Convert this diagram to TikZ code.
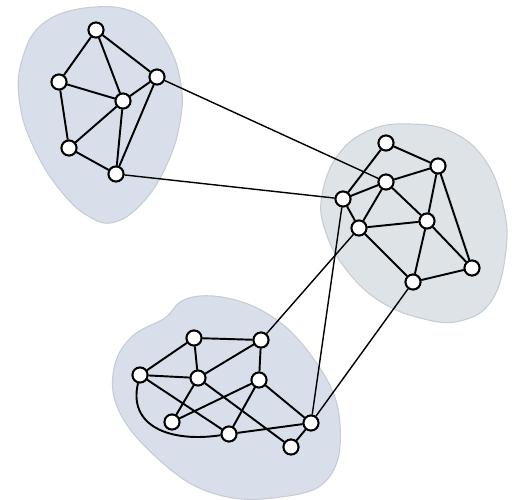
\documentclass[tikz,border=0pt]{standalone}

\definecolor{blobblue}{RGB}{217,223,234}
\definecolor{blobgray}{RGB}{222,227,231}
\definecolor{blobedge}{RGB}{198,203,214}

\begin{document}
\begin{tikzpicture}[x=0.02cm,y=-0.02cm]

% --- Global TikZ Styles ---
\tikzset{
    clusterA/.style={
        fill=blobblue,
        draw=blobedge,
        line width=0.6pt
    },
    clusterB/.style={
        fill=blobgray,
        draw=blobedge,
        line width=0.6pt
    },
    vertex/.style={
        circle,
        fill=white,
        draw=black,
        line width=1.1pt,
        minimum size=0.30cm,
        inner sep=0pt
    },
    inner edge/.style={
        draw=black,
        line width=1.1pt
    },
    bridge/.style={
        draw=black,
        line width=0.8pt
    }
}

\useasboundingbox (0,0) rectangle (519,499);

% ==================================================
% --- Background blobs ---
% ==================================================

\path[clusterA] plot[smooth cycle, tension=0.7] coordinates {
    (95,7) (140,15) (168,45) (181,85) (180,122) (168,162)
    (145,200) (115,222) (88,216) (60,190) (35,150) (20,105)
    (22,60) (45,22)};

\path[clusterB] plot[smooth cycle, tension=0.7] coordinates {
    (410,124) (452,132) (485,160) (503,205) (506,250) (492,300)
    (460,321) (420,318) (378,300) (345,268) (325,230) (322,195)
    (338,155) (370,130)};

\path[clusterA] plot[smooth cycle, tension=0.6] coordinates {
    (165,318) (180,302) (200,296) (227,298) (257,308) (287,328)
    (313,358) (333,392) (340,425) (337,462) (317,488) (273,498)
    (233,498) (193,485) (157,458) (127,425) (113,392) (117,358)
    (135,334)};

% ==================================================
% --- Top left cluster ---
% ==================================================

\node[vertex] (a1) at (96,30)  {};
\node[vertex] (a2) at (59,82)  {};
\node[vertex] (a3) at (123,101) {};
\node[vertex] (a4) at (157,77) {};
\node[vertex] (a5) at (69,148) {};
\node[vertex] (a6) at (116,174) {};

% ==================================================
% --- Right cluster ---
% ==================================================

\node[vertex] (b1) at (386,143) {};
\node[vertex] (b2) at (438,166) {};
\node[vertex] (b3) at (386,182) {};
\node[vertex] (b4) at (343,199) {};
\node[vertex] (b5) at (359,228) {};
\node[vertex] (b6) at (427,221) {};
\node[vertex] (b7) at (413,282) {};
\node[vertex] (b8) at (472,268) {};

% ==================================================
% --- Bottom cluster ---
% ==================================================

\node[vertex] (c1) at (194,338) {};
\node[vertex] (c2) at (261,340) {};
\node[vertex] (c3) at (140,375) {};
\node[vertex] (c4) at (198,378) {};
\node[vertex] (c5) at (259,380) {};
\node[vertex] (c6) at (172,422) {};
\node[vertex] (c7) at (229,434) {};
\node[vertex] (c8) at (311,423) {};
\node[vertex] (c9) at (291,447) {};

% ==================================================
% --- Edges ---
% ==================================================

% Bridges between clusters
\foreach \u/\v in {a4/b3, a6/b4, c2/b5, c8/b4, c8/b7}
    \draw[bridge] (\u) -- (\v);

% Edges inside the clusters
\foreach \u/\v in {a1/a2, a1/a3, a1/a4, a2/a3, a2/a5, a3/a4,
                   a3/a5, a3/a6, a4/a6, a5/a6,
                   b1/b2, b1/b4, b3/b2, b3/b4, b3/b5, b3/b6,
                   b4/b5, b5/b6, b5/b7, b2/b6, b2/b8, b6/b7,
                   b6/b8, b7/b8,
                   c3/c1, c1/c2, c1/c4, c3/c4, c4/c2, c2/c5,
                   c3/c7, c4/c6, c4/c9, c6/c5, c5/c7, c5/c8,
                   c7/c8, c9/c8}
    \draw[inner edge] (\u) -- (\v);

% Curved edge along the bottom
\draw[inner edge] (c3) .. controls (128,425) and (168,443) .. (c7);

% Redraw vertices on top of the edges
\foreach \n in {a1,a2,a3,a4,a5,a6,b1,b2,b3,b4,b5,b6,b7,b8,
                c1,c2,c3,c4,c5,c6,c7,c8,c9}
    \node[vertex] at (\n) {};

\end{tikzpicture}
\end{document}
